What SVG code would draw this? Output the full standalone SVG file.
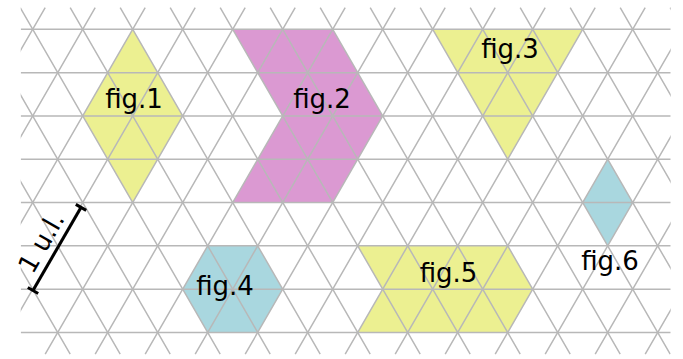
<svg xmlns="http://www.w3.org/2000/svg" width="683" height="359" viewBox="0 0 683 359">
<style>
.grid{fill:none;stroke:#b8b8b8;stroke-width:1.5}
.yel{fill:#ecf091}
.pink{fill:#db99d2}
.blue{fill:#a9d7df}
.lbl{font-family:"DejaVu Sans",sans-serif;font-size:26px;fill:#000;text-anchor:middle}
.bar{stroke:#000;stroke-width:3;fill:none}
</style>
<defs>
<clipPath id="gclip"><rect x="20.7" y="0" width="650" height="359"/></clipPath>
</defs>
<rect width="683" height="359" fill="#fff"/>
<g id="fig1"><polygon class="yel" points="132.7,29.33 182.7,115.93 132.7,202.53 82.7,115.93"/></g>
<g id="fig2"><polygon class="pink" points="232.7,29.33 332.7,29.33 382.7,115.93 332.7,202.53 232.7,202.53 282.7,115.93"/></g>
<g id="fig3"><polygon class="yel" points="432.7,29.33 582.7,29.33 507.7,159.23"/></g>
<g id="fig4"><polygon class="blue" points="207.7,245.83 257.7,245.83 282.7,289.13 257.7,332.43 207.7,332.43 182.7,289.13"/></g>
<g id="fig5"><polygon class="yel" points="357.7,245.83 507.7,245.83 532.7,289.13 507.7,332.43 357.7,332.43 382.7,289.13"/></g>
<g id="fig6"><polygon class="blue" points="607.7,159.23 632.7,202.53 607.7,245.83 582.7,202.53"/></g>
<g id="grid" clip-path="url(#gclip)">
<path class="grid" d="M20.7 29.33H670.7M20.7 72.63H670.7M20.7 115.93H670.7M20.7 159.23H670.7M20.7 202.53H670.7M20.7 245.83H670.7M20.7 289.13H670.7M20.7 332.43H670.7"/>
<path class="grid" d="M-129.8 7.65L70.2 354.1M-79.8 7.65L120.2 354.1M-29.8 7.65L170.2 354.1M20.2 7.65L220.2 354.1M70.2 7.65L270.2 354.1M120.2 7.65L320.2 354.1M170.2 7.65L370.2 354.1M220.2 7.65L420.2 354.1M270.2 7.65L470.2 354.1M320.2 7.65L520.2 354.1M370.2 7.65L570.2 354.1M420.2 7.65L620.2 354.1M470.2 7.65L670.2 354.1M520.2 7.65L720.2 354.1M570.2 7.65L770.2 354.1M620.2 7.65L820.2 354.1M670.2 7.65L870.2 354.1"/>
<path class="grid" d="M45.2 7.65L-154.8 354.1M95.2 7.65L-104.8 354.1M145.2 7.65L-54.8 354.1M195.2 7.65L-4.8 354.1M245.2 7.65L45.2 354.1M295.2 7.65L95.2 354.1M345.2 7.65L145.2 354.1M395.2 7.65L195.2 354.1M445.2 7.65L245.2 354.1M495.2 7.65L295.2 354.1M545.2 7.65L345.2 354.1M595.2 7.65L395.2 354.1M645.2 7.65L445.2 354.1M695.2 7.65L495.2 354.1M745.2 7.65L545.2 354.1M795.2 7.65L595.2 354.1M845.2 7.65L645.2 354.1"/>
</g>
<g id="labels">
<text class="lbl" x="134" y="108">fig.1</text>
<text class="lbl" x="322" y="108">fig.2</text>
<text class="lbl" x="510" y="57.5">fig.3</text>
<text class="lbl" x="225" y="295">fig.4</text>
<text class="lbl" x="448.5" y="282">fig.5</text>
<text class="lbl" x="610" y="269.5">fig.6</text>
</g>
<g id="scale">
<path class="bar" d="M33 290.5L81 207.4"/>
<path class="bar" stroke-width="2.5" d="M27.8 287.5L38.2 293.5M75.8 204.4L86.2 210.4"/>
<text class="lbl" transform="translate(57,249) rotate(-60)" x="-2" y="-8">1 u.l.</text>
</g>
</svg>
